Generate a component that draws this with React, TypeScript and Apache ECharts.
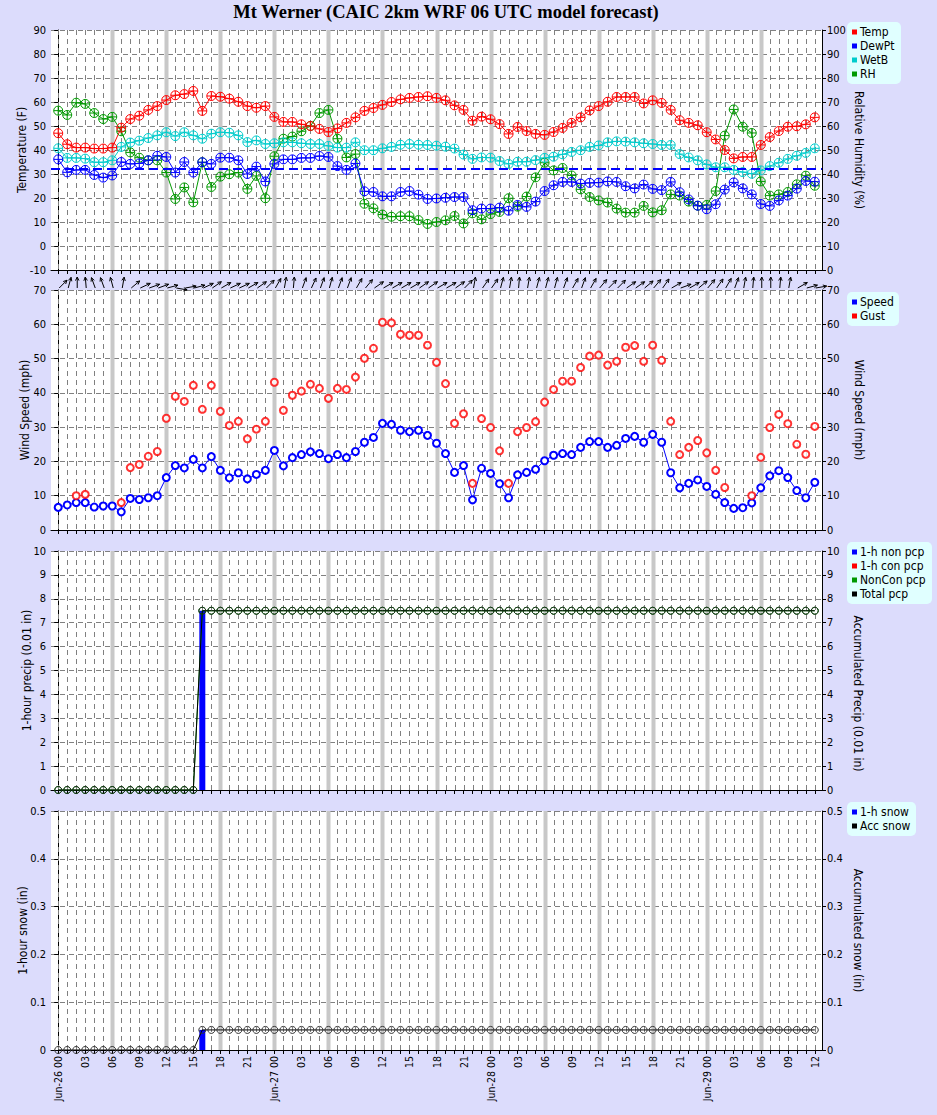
import React, { useEffect, useRef } from 'react';
import * as echarts from 'echarts';

const BG = '#dcdcfc';
const FONT = "'DejaVu Sans Condensed', 'DejaVu Sans', sans-serif";
const TITLE = 'Mt Werner (CAIC 2km WRF 06 UTC model forecast)';

// forecast hours since Jun-26 00
const hours = Array.from({ length: 85 }, (_, i) => i);
const greyHours = [6, 12, 18, 24, 30, 36, 42, 48, 54, 60, 66, 72, 78];
const labelHours = [0, 3, 6, 9, 12, 15, 18, 21, 24, 27, 30, 33, 36, 39, 42, 45, 48, 51, 54, 57, 60, 63, 66, 69, 72, 75, 78, 81, 84];
const xTickLabels = ['Jun-26 00', '03', '06', '09', '12', '15', '18', '21',
  'Jun-27 00', '03', '06', '09', '12', '15', '18', '21',
  'Jun-28 00', '03', '06', '09', '12', '15', '18', '21',
  'Jun-29 00', '03', '06', '09', '12'];

const temp = [47, 42.4, 41, 41, 40.6, 40.6, 41, 49.3, 52.9, 54.3, 56.7, 58.3, 60.8, 62.8, 63.3, 64.6, 56.3, 62.5, 62.2, 61.4, 60.1, 58.3, 57.6, 58.3, 53.8, 51.7, 51.7, 50.7, 50, 48.8, 47.5, 49, 51.3, 53.6, 56.3, 57.5, 58.8, 60, 61.1, 61.7, 62.1, 62.4, 61.7, 60.7, 58.6, 56.7, 52.2, 53.9, 52.8, 50.8, 46.7, 49.6, 47.9, 46.7, 46.3, 47.5, 49.2, 51.3, 53.6, 56.5, 58.3, 60.1, 62.1, 62.1, 62.1, 59.4, 60.7, 59.6, 56.7, 52.4, 51.3, 50.3, 47.4, 44.4, 40, 36.5, 37.1, 37.1, 42.1, 45.4, 47.9, 49.7, 49.9, 50.7, 53.6];
const dewPt = [36.1, 30.7, 31.7, 31.7, 29.6, 28.5, 29.4, 35, 34.2, 34.4, 35.7, 37.6, 37.1, 30.6, 35, 30.6, 34.9, 34.2, 36.8, 36.8, 35.7, 30, 33.1, 26.9, 34.2, 36.1, 36.1, 36.7, 36.7, 37.5, 37.1, 33.3, 31.7, 34.4, 22.8, 22.5, 20.7, 20.7, 22.5, 22.9, 21.4, 19.6, 19.8, 20.1, 20.4, 20.4, 14.9, 15.6, 15.6, 16, 14.7, 17.1, 16.3, 18.5, 22.9, 25.3, 26.7, 26.7, 26, 26.3, 26.4, 26.9, 26.7, 24.9, 24, 25.6, 23.8, 23.3, 26.7, 22.4, 19.4, 16.8, 15.3, 17.4, 23.5, 26.5, 24, 21.5, 17.5, 16.7, 19, 21, 23.9, 27.1, 26.8];
const wetB = [40.7, 36.7, 36.7, 36.4, 34.9, 34.9, 35.7, 41.3, 43.1, 43.9, 45, 46.1, 47.4, 45.8, 47.4, 46.1, 44.7, 46.8, 47.4, 47.2, 46.1, 43.3, 44, 42.5, 42.8, 43.2, 43.2, 42.8, 42.5, 42.5, 41.7, 41, 41, 43.2, 39.9, 39.9, 40.7, 41.3, 42.2, 42.5, 42.2, 42.1, 41.8, 41.4, 40.6, 38.1, 36.3, 36.9, 36.8, 35.4, 34.2, 35.1, 35.1, 35.8, 36.7, 37.2, 38.2, 39.2, 39.9, 41.3, 41.9, 43.2, 43.6, 43.5, 43.2, 42.8, 42.5, 42.1, 42.1, 38.3, 36.9, 35.7, 34, 32.8, 32.8, 31.7, 30.8, 30.1, 31.5, 33.3, 34.7, 36.3, 37.6, 38.8, 40.7];
const rh = [66.4, 64.6, 69.7, 69.2, 65.4, 62.9, 63.8, 57.8, 49, 46.8, 45.7, 45.7, 40.6, 29.6, 34.4, 28.2, 44.9, 34.6, 38.9, 39.9, 40.6, 33.8, 39.2, 29.9, 47.4, 54.7, 55.6, 57.8, 60, 65.4, 66.7, 54.7, 46.9, 48.3, 27.6, 25.7, 23.1, 22.2, 22.4, 22.4, 20.8, 19.2, 20, 20.7, 22.5, 19.4, 23.6, 21.1, 23.3, 24.2, 29.9, 26.4, 30.6, 38.6, 44.7, 41.5, 42.5, 39.4, 33.6, 30.4, 29, 28.1, 25.6, 23.9, 23.9, 26.7, 24, 24.9, 31.5, 31, 28.5, 26.8, 27.1, 32.9, 56, 66.9, 59.7, 57.1, 36.9, 31, 31.5, 32.5, 35.7, 39.3, 35.1];
const freezing = 32;

const speed = [6.6, 7.3, 8, 8, 6.7, 7, 7, 5.3, 9.2, 8.9, 9.4, 10, 15.3, 18.8, 18.1, 20.6, 18.1, 21.4, 17.4, 15.2, 16.7, 14.9, 16.2, 17.4, 23.2, 18.7, 21.1, 22, 22.8, 22.3, 20.8, 22, 21.1, 22.9, 25.6, 27, 31.1, 30.8, 29.1, 28.7, 29.1, 27.6, 25.3, 22.3, 16.8, 18.8, 8.8, 18, 16.5, 13.5, 9.4, 16.1, 16.8, 17.7, 20.2, 21.8, 22.3, 22, 24.1, 25.8, 25.8, 24.1, 24.7, 26.7, 27.3, 25.6, 27.9, 25.6, 16.7, 12.3, 13.6, 14.6, 12.7, 10.4, 8, 6.3, 6.5, 7.9, 12.3, 15.8, 17.3, 15.3, 11.5, 9.4, 13.9];
const gust = [null, null, 10, 10.4, null, null, null, 8, 18.2, 19.1, 21.5, 22.9, 32.6, 39, 37.5, 42.2, 35.2, 42.2, 34.6, 30.5, 31.7, 26.6, 29.4, 31.7, 43.1, 34.9, 39.3, 40.5, 42.5, 41.3, 38.4, 41.3, 41, 44.6, 50.1, 53, 60.6, 60.4, 57.1, 56.8, 56.8, 53.9, 48.9, 42.7, 31.1, 33.9, 13.6, 32.5, 29.9, 23.1, 13.6, 28.7, 29.9, 31.6, 37.3, 41, 43.4, 43.4, 47.4, 50.7, 51, 48.1, 49.2, 53.3, 53.8, 49.2, 53.9, 49.5, 31.7, 22, 24.1, 26.1, 22.5, 17.4, 12.4, null, null, 10, 21.2, 29.9, 33.7, 31, 25, 22.1, 30.2];
// direction the wind arrow points, degrees clockwise from up
const windArrow = [45, 15, 0, -5, -20, -20, -15, 10, 50, 65, 70, 70, 75, 100, 80, 75, 65, 55, 60, 65, 65, 60, 55, 45, 30, 10, 5, 20, 25, 20, 15, 20, 20, 30, 40, 55, 60, 60, 60, 60, 55, 55, 60, 60, 55, 45, 10, 35, 35, 15, 10, 5, 10, 15, 15, 15, 20, 30, 20, 30, 40, 45, 45, 55, 55, 50, 40, 35, 60, 70, 60, 50, 40, 35, 30, 20, 10, 5, 0, 0, 5, 10, 60, 75, 80];

const nonPcp1h = [0, 0, 0, 0, 0, 0, 0, 0, 0, 0, 0, 0, 0, 0, 0, 0, 7.5, 0, 0, 0, 0, 0, 0, 0, 0, 0, 0, 0, 0, 0, 0, 0, 0, 0, 0, 0, 0, 0, 0, 0, 0, 0, 0, 0, 0, 0, 0, 0, 0, 0, 0, 0, 0, 0, 0, 0, 0, 0, 0, 0, 0, 0, 0, 0, 0, 0, 0, 0, 0, 0, 0, 0, 0, 0, 0, 0, 0, 0, 0, 0, 0, 0, 0, 0, 0];
const conPcp1h = [0, 0, 0, 0, 0, 0, 0, 0, 0, 0, 0, 0, 0, 0, 0, 0, 0, 0, 0, 0, 0, 0, 0, 0, 0, 0, 0, 0, 0, 0, 0, 0, 0, 0, 0, 0, 0, 0, 0, 0, 0, 0, 0, 0, 0, 0, 0, 0, 0, 0, 0, 0, 0, 0, 0, 0, 0, 0, 0, 0, 0, 0, 0, 0, 0, 0, 0, 0, 0, 0, 0, 0, 0, 0, 0, 0, 0, 0, 0, 0, 0, 0, 0, 0, 0];
const nonConPcp = [0, 0, 0, 0, 0, 0, 0, 0, 0, 0, 0, 0, 0, 0, 0, 0, 7.5, 7.5, 7.5, 7.5, 7.5, 7.5, 7.5, 7.5, 7.5, 7.5, 7.5, 7.5, 7.5, 7.5, 7.5, 7.5, 7.5, 7.5, 7.5, 7.5, 7.5, 7.5, 7.5, 7.5, 7.5, 7.5, 7.5, 7.5, 7.5, 7.5, 7.5, 7.5, 7.5, 7.5, 7.5, 7.5, 7.5, 7.5, 7.5, 7.5, 7.5, 7.5, 7.5, 7.5, 7.5, 7.5, 7.5, 7.5, 7.5, 7.5, 7.5, 7.5, 7.5, 7.5, 7.5, 7.5, 7.5, 7.5, 7.5, 7.5, 7.5, 7.5, 7.5, 7.5, 7.5, 7.5, 7.5, 7.5, 7.5];
const totalPcp = [0, 0, 0, 0, 0, 0, 0, 0, 0, 0, 0, 0, 0, 0, 0, 0, 7.5, 7.5, 7.5, 7.5, 7.5, 7.5, 7.5, 7.5, 7.5, 7.5, 7.5, 7.5, 7.5, 7.5, 7.5, 7.5, 7.5, 7.5, 7.5, 7.5, 7.5, 7.5, 7.5, 7.5, 7.5, 7.5, 7.5, 7.5, 7.5, 7.5, 7.5, 7.5, 7.5, 7.5, 7.5, 7.5, 7.5, 7.5, 7.5, 7.5, 7.5, 7.5, 7.5, 7.5, 7.5, 7.5, 7.5, 7.5, 7.5, 7.5, 7.5, 7.5, 7.5, 7.5, 7.5, 7.5, 7.5, 7.5, 7.5, 7.5, 7.5, 7.5, 7.5, 7.5, 7.5, 7.5, 7.5, 7.5, 7.5];
const snow1h = [0, 0, 0, 0, 0, 0, 0, 0, 0, 0, 0, 0, 0, 0, 0, 0, 0.042, 0, 0, 0, 0, 0, 0, 0, 0, 0, 0, 0, 0, 0, 0, 0, 0, 0, 0, 0, 0, 0, 0, 0, 0, 0, 0, 0, 0, 0, 0, 0, 0, 0, 0, 0, 0, 0, 0, 0, 0, 0, 0, 0, 0, 0, 0, 0, 0, 0, 0, 0, 0, 0, 0, 0, 0, 0, 0, 0, 0, 0, 0, 0, 0, 0, 0, 0, 0];
const accSnow = [0, 0, 0, 0, 0, 0, 0, 0, 0, 0, 0, 0, 0, 0, 0, 0, 0.042, 0.042, 0.042, 0.042, 0.042, 0.042, 0.042, 0.042, 0.042, 0.042, 0.042, 0.042, 0.042, 0.042, 0.042, 0.042, 0.042, 0.042, 0.042, 0.042, 0.042, 0.042, 0.042, 0.042, 0.042, 0.042, 0.042, 0.042, 0.042, 0.042, 0.042, 0.042, 0.042, 0.042, 0.042, 0.042, 0.042, 0.042, 0.042, 0.042, 0.042, 0.042, 0.042, 0.042, 0.042, 0.042, 0.042, 0.042, 0.042, 0.042, 0.042, 0.042, 0.042, 0.042, 0.042, 0.042, 0.042, 0.042, 0.042, 0.042, 0.042, 0.042, 0.042, 0.042, 0.042, 0.042, 0.042, 0.042, 0.042];

const legends = [
  { top: 22, w: 54, items: [['Temp', '#ff0000'], ['DewPt', '#0000ff'], ['WetB', '#00cccc'], ['RH', '#009900']] },
  { top: 292, w: 52, items: [['Speed', '#0000ff'], ['Gust', '#ff0000']] },
  { top: 542, w: 85, items: [['1-h non pcp', '#0000ff'], ['1-h con pcp', '#ff0000'], ['NonCon pcp', '#009900'], ['Total pcp', '#000000']] },
  { top: 802, w: 69, items: [['1-h snow', '#0000ff'], ['Acc snow', '#000000']] },
];

const grids = [
  { top: 30, height: 240 },
  { top: 290, height: 240 },
  { top: 551, height: 239 },
  { top: 811, height: 239 },
];

const yAxesDef = [
  { min: -10, max: 90, interval: 10, name: 'Temperature (F)', gap: 23, shift: 0 },
  { min: 0, max: 100, interval: 10, name: 'Relative Humidity (%)', gap: 31, shift: 0 },
  { min: 0, max: 70, interval: 10, name: 'Wind Speed (mph)', gap: 20, shift: 0 },
  { min: 0, max: 70, interval: 10, name: 'Wind Speed (mph)', gap: 31, shift: 0 },
  { min: 0, max: 10, interval: 1, name: '1-hour precip (0.01 in)', gap: 18, shift: 0 },
  { min: 0, max: 10, interval: 1, name: 'Accumulated Precip (0.01 in)', gap: 30, shift: 46 },
  { min: 0, max: 0.5, interval: 0.1, name: '1-hour snow (in)', gap: 22, shift: 0 },
  { min: 0, max: 0.5, interval: 0.1, name: 'Accumulated snow (in)', gap: 30, shift: 0 },
];

const CIRCLE_PLUS = 'path://M0,5A5,5,0,1,1,10,5A5,5,0,1,1,0,5ZM5,0L5,10M0,5L10,5';

function pairs(vals: (number | null)[]) {
  return vals.map((v, i) => [hours[i], v]);
}

function gridLinesSeries(gi: number) {
  const data = [...hours.map((h) => [h, 0]), ...greyHours.map((h) => [h, 1])];
  return {
    type: 'custom',
    xAxisIndex: gi,
    yAxisIndex: gi * 2,
    z: 1,
    silent: true,
    data,
    renderItem: (params: any, api: any) => {
      const cs = params.coordSys;
      const x = api.coord([api.value(0), yAxesDef[gi * 2].min])[0];
      const grey = api.value(1) === 1;
      const xx = Math.round(x) + 0.5;
      return {
        type: 'line',
        shape: { x1: xx, y1: cs.y, x2: xx, y2: cs.y + cs.height },
        style: grey
          ? { stroke: '#c8c8c8', lineWidth: 4 }
          : { stroke: '#808080', lineWidth: 1, lineDash: [5, 4] },
      };
    },
  };
}

function topLine(name: string, vals: number[], color: string, yi: number) {
  return {
    name,
    type: 'line',
    xAxisIndex: 0,
    yAxisIndex: yi,
    data: pairs(vals),
    symbol: CIRCLE_PLUS,
    symbolSize: 9,
    itemStyle: { color: 'rgba(0,0,0,0)', borderColor: color, borderWidth: 1 },
    lineStyle: { color, width: 1 },
    z: 3,
  };
}

function buildOption() {
  const xAxis = grids.map((_, gi) => ({
    type: 'value',
    gridIndex: gi,
    min: -0.8,
    max: 84.8,
    axisLine: { show: true, onZero: false, lineStyle: { color: '#000', width: 1 } },
    axisTick: { show: true, customValues: hours, length: 4, lineStyle: { color: '#000' } },
    axisLabel: gi === 3
      ? {
          show: true,
          customValues: labelHours,
          rotate: 90,
          margin: 6,
          fontSize: 10.5,
          fontFamily: FONT,
          color: '#000',
          formatter: (v: number) => xTickLabels[labelHours.indexOf(Math.round(v))] || '',
        }
      : { show: false },
    splitLine: { show: false },
  }));

  const yAxis = yAxesDef.map((d, i) => {
    const gi = Math.floor(i / 2);
    const left = i % 2 === 0;
    return {
      type: 'value',
      gridIndex: gi,
      position: left ? 'left' : 'right',
      min: d.min,
      max: d.max,
      interval: d.interval,
      axisLine: { show: true, lineStyle: { color: '#000', width: 1 } },
      axisTick: { show: true, length: 4, lineStyle: { color: '#000' } },
      axisLabel: {
        color: '#000',
        fontSize: 11,
        fontFamily: FONT,
        margin: 5,
        formatter: (v: number) => (d.interval < 1 ? (v === 0 ? '0' : v.toFixed(1)) : String(v)),
      },
      splitLine: left
        ? { show: true, lineStyle: { color: '#808080', width: 1, type: [5, 4] } }
        : { show: false },
      name: d.name,
      nameLocation: 'middle',
      nameRotate: left ? 90 : -90,
      nameGap: d.gap,
      nameMoveOverlap: false,
      nameTextStyle: {
        color: '#000',
        fontSize: 12,
        fontFamily: FONT,
        padding: d.shift ? [0, 0, 0, d.shift] : 0,
      },
    };
  });

  const series: any[] = [
    gridLinesSeries(0),
    gridLinesSeries(1),
    gridLinesSeries(2),
    gridLinesSeries(3),
    topLine('RH', rh, '#009900', 1),
    topLine('WetB', wetB, '#00cccc', 0),
    {
      ...topLine('DewPt', dewPt, '#0000ff', 0),
      markLine: {
        silent: true,
        symbol: ['none', 'none'],
        label: { show: false },
        lineStyle: { color: '#0000ff', width: 2, type: [9, 5] },
        data: [{ yAxis: freezing }],
      },
    },
    topLine('Temp', temp, '#ff0000', 0),
    {
      name: 'WindDir',
      type: 'custom',
      xAxisIndex: 1,
      yAxisIndex: 2,
      silent: true,
      z: 4,
      data: windArrow.map((d, i) => [hours[i], 70, d]),
      renderItem: (params: any, api: any) => {
        const p = api.coord([api.value(0), api.value(1)]);
        const a = (api.value(2) * Math.PI) / 180;
        const L = 11;
        const x0 = p[0] + 1;
        const y0 = p[1] - 2;
        const x1 = x0 + L * Math.sin(a);
        const y1 = y0 - L * Math.cos(a);
        const hl = 4;
        const b1 = a + Math.PI - 0.45;
        const b2 = a + Math.PI + 0.45;
        return {
          type: 'group',
          children: [
            { type: 'line', shape: { x1: x0, y1: y0, x2: x1, y2: y1 }, style: { stroke: '#000', lineWidth: 1 } },
            {
              type: 'polyline',
              shape: { points: [[x1 + hl * Math.sin(b1), y1 - hl * Math.cos(b1)], [x1, y1], [x1 + hl * Math.sin(b2), y1 - hl * Math.cos(b2)]] },
              style: { stroke: '#000', fill: null, lineWidth: 1 },
            },
          ],
        };
      },
    },
    {
      name: 'Speed',
      type: 'line',
      xAxisIndex: 1,
      yAxisIndex: 2,
      data: pairs(speed),
      symbol: 'circle',
      symbolSize: 7,
      itemStyle: { color: '#ffffff', borderColor: '#0000ff', borderWidth: 2 },
      lineStyle: { color: '#0000ff', width: 1 },
      z: 3,
    },
    {
      name: 'Gust',
      type: 'scatter',
      xAxisIndex: 1,
      yAxisIndex: 2,
      data: pairs(gust).filter((d) => d[1] !== null),
      symbol: 'circle',
      symbolSize: 7,
      itemStyle: { color: '#ffffff', borderColor: '#ff0000', borderWidth: 2 },
      z: 3,
    },
    {
      name: '1-h non pcp',
      type: 'bar',
      xAxisIndex: 2,
      yAxisIndex: 4,
      data: pairs(nonPcp1h),
      barWidth: 6,
      itemStyle: { color: '#0000ff' },
      z: 2,
    },
    {
      name: '1-h con pcp',
      type: 'bar',
      xAxisIndex: 2,
      yAxisIndex: 4,
      data: pairs(conPcp1h),
      barWidth: 6,
      barGap: '-100%',
      itemStyle: { color: '#ff0000' },
      z: 2,
    },
    {
      name: 'NonCon pcp',
      type: 'line',
      xAxisIndex: 2,
      yAxisIndex: 5,
      data: pairs(nonConPcp),
      symbol: 'circle',
      symbolSize: 7,
      itemStyle: { color: 'rgba(0,0,0,0)', borderColor: '#006600', borderWidth: 1 },
      lineStyle: { color: '#009900', width: 1 },
      z: 3,
    },
    {
      name: 'Total pcp',
      type: 'line',
      xAxisIndex: 2,
      yAxisIndex: 5,
      data: pairs(totalPcp),
      symbol: 'circle',
      symbolSize: 7,
      itemStyle: { color: 'rgba(0,0,0,0)', borderColor: '#1a331a', borderWidth: 1 },
      lineStyle: { color: '#000000', width: 1 },
      z: 4,
    },
    {
      name: '1-h snow',
      type: 'bar',
      xAxisIndex: 3,
      yAxisIndex: 6,
      data: pairs(snow1h),
      barWidth: 6,
      itemStyle: { color: '#0000ff' },
      z: 2,
    },
    {
      name: 'Acc snow',
      type: 'line',
      xAxisIndex: 3,
      yAxisIndex: 7,
      data: pairs(accSnow),
      symbol: 'circle',
      symbolSize: 7,
      itemStyle: { color: 'rgba(0,0,0,0)', borderColor: '#333333', borderWidth: 1 },
      lineStyle: { color: '#000000', width: 1 },
      z: 4,
    },
  ];

  const graphic: any[] = [
    {
      type: 'text',
      x: 446,
      y: 12,
      style: {
        text: TITLE,
        fill: '#000',
        font: "bold 18.5px 'Liberation Serif', 'DejaVu Serif', serif",
        textAlign: 'center',
        textVerticalAlign: 'middle',
      },
    },
  ];
  legends.forEach((lg) => {
    const h = lg.items.length * 14 + 6;
    graphic.push({
      type: 'rect',
      shape: { x: 847, y: lg.top, width: lg.w, height: h, r: 5 },
      style: { fill: '#e0ffff' },
    });
    lg.items.forEach((it, k) => {
      const cy = lg.top + 10 + k * 14;
      graphic.push({
        type: 'rect',
        shape: { x: 852, y: cy - 2.5, width: 5, height: 5 },
        style: { fill: it[1] },
      });
      graphic.push({
        type: 'text',
        x: 860,
        y: cy,
        style: { text: it[0], fill: '#000', font: `12px ${FONT}`, textVerticalAlign: 'middle' },
      });
    });
  });

  return {
    animation: false,
    backgroundColor: BG,
    grid: grids.map((g) => ({
      left: 51,
      width: 771,
      top: g.top,
      height: g.height,
      show: true,
      backgroundColor: '#ffffff',
      borderWidth: 0,
      containLabel: false,
      outerBoundsMode: 'none',
    })),
    xAxis,
    yAxis,
    series,
    graphic,
  };
}

export default function App() {
  const ref = useRef<HTMLDivElement>(null);
  useEffect(() => {
    document.body.style.margin = '0';
    const chart = echarts.init(ref.current!, null, { renderer: 'svg' });
    chart.setOption(buildOption() as any);
    return () => chart.dispose();
  }, []);
  return <div ref={ref} style={{ width: 937, height: 1115, background: BG }} />;
}
